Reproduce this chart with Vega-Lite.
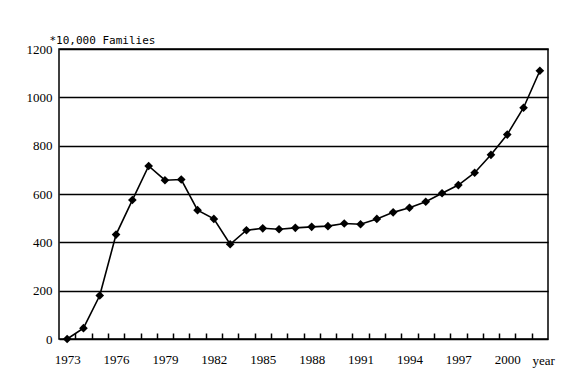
{
  "$schema": "https://vega.github.io/schema/vega-lite/v6.json",
  "width": 489,
  "height": 290,
  "autosize": "none",
  "padding": {"left": 59, "top": 49, "right": 34, "bottom": 53},
  "background": "white",
  "config": {
    "view": {"stroke": "black", "strokeWidth": 1.5}
  },
  "data": {
    "values": [
      {"year": 1973, "families": 0},
      {"year": 1974, "families": 45},
      {"year": 1975, "families": 180},
      {"year": 1976, "families": 432},
      {"year": 1977, "families": 575},
      {"year": 1978, "families": 716},
      {"year": 1979, "families": 657},
      {"year": 1980, "families": 660},
      {"year": 1981, "families": 533},
      {"year": 1982, "families": 497},
      {"year": 1983, "families": 392},
      {"year": 1984, "families": 450},
      {"year": 1985, "families": 458},
      {"year": 1986, "families": 454},
      {"year": 1987, "families": 460},
      {"year": 1988, "families": 464},
      {"year": 1989, "families": 467},
      {"year": 1990, "families": 478},
      {"year": 1991, "families": 475},
      {"year": 1992, "families": 497},
      {"year": 1993, "families": 524},
      {"year": 1994, "families": 543},
      {"year": 1995, "families": 568},
      {"year": 1996, "families": 603},
      {"year": 1997, "families": 637},
      {"year": 1998, "families": 688},
      {"year": 1999, "families": 762},
      {"year": 2000, "families": 846},
      {"year": 2001, "families": 957},
      {"year": 2002, "families": 1110}
    ]
  },
  "mark": {
    "type": "line",
    "color": "black",
    "strokeWidth": 1.6,
    "point": {"shape": "diamond", "filled": true, "size": 75, "color": "black"}
  },
  "encoding": {
    "x": {
      "field": "year",
      "type": "quantitative",
      "scale": {"domain": [1972.5, 2002.5], "nice": false, "zero": false},
      "axis": {
        "values": [1973.5, 1974.5, 1975.5, 1976.5, 1977.5, 1978.5, 1979.5, 1980.5, 1981.5, 1982.5, 1983.5, 1984.5, 1985.5, 1986.5, 1987.5, 1988.5, 1989.5, 1990.5, 1991.5, 1992.5, 1993.5, 1994.5, 1995.5, 1996.5, 1997.5, 1998.5, 1999.5, 2000.5, 2001.5],
        "labelExpr": "(datum.value - 1973.5) % 3 == 0 ? '' + (datum.value - 0.5) : ''",
        "labelOffset": -8.15,
        "labelOverlap": false,
        "labelFlush": false,
        "labelFont": "Liberation Sans Narrow",
        "labelFontSize": 13,
        "labelColor": "black",
        "grid": false,
        "domain": false,
        "ticks": true,
        "offset": -6,
        "tickColor": "black",
        "tickWidth": 1.5,
        "tickSize": 6,
        "labelPadding": 14,
        "title": "year",
        "titleColor": "black",
        "titleFont": "Liberation Sans Narrow",
        "titleFontSize": 13,
        "titleFontWeight": "normal",
        "titleAlign": "left",
        "titleBaseline": "alphabetic",
        "titleAnchor": "start",
        "titleX": 473,
        "titleY": 31
      }
    },
    "y": {
      "field": "families",
      "type": "quantitative",
      "scale": {"domain": [0, 1200], "nice": false},
      "axis": {
        "values": [0, 200, 400, 600, 800, 1000, 1200],
        "format": "d",
        "labelFont": "Liberation Sans Narrow",
        "labelFontSize": 13,
        "labelColor": "black",
        "grid": true,
        "gridColor": "black",
        "gridWidth": 1.3,
        "gridOpacity": 1,
        "ticks": false,
        "domain": false,
        "labelPadding": 7,
        "title": "*10,000 Families",
        "titleColor": "black",
        "titleFont": "DejaVu Sans Mono",
        "titleFontSize": 11,
        "titleFontWeight": "normal",
        "titleAngle": 0,
        "titleAlign": "left",
        "titleBaseline": "alphabetic",
        "titleX": -10,
        "titleY": -6
      }
    }
  }
}
